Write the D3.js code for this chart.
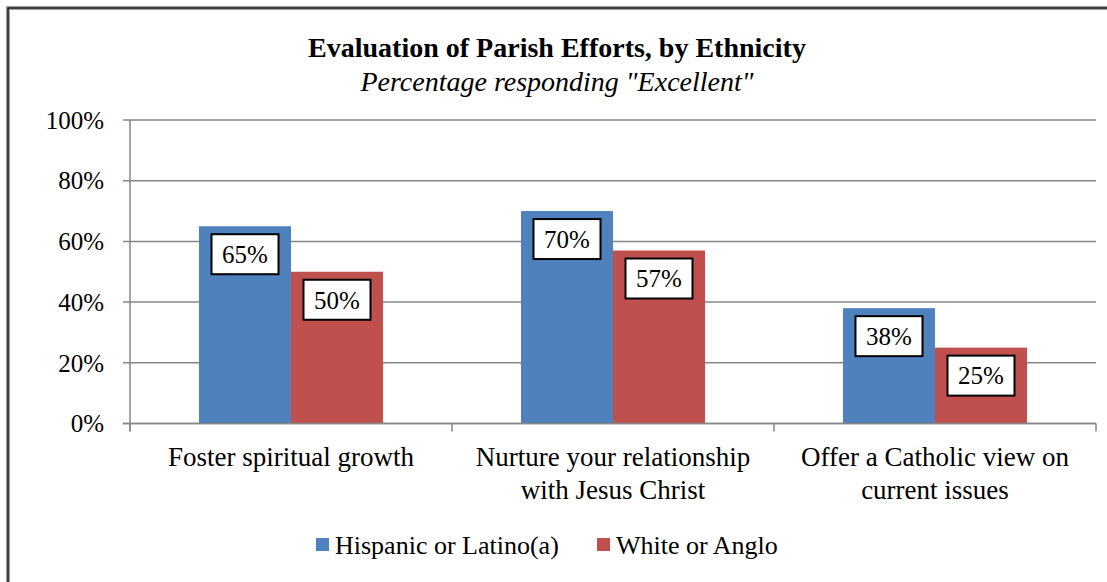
<!DOCTYPE html>
<html>
<head>
<meta charset="utf-8">
<script src="https://cdn.jsdelivr.net/npm/d3@7"></script>
<style>
  html, body { margin: 0; padding: 0; background: #fff; }
</style>
</head>
<body>
<script>
// data
var categories = ["Foster spiritual growth", "Nurture your relationship\nwith Jesus Christ", "Offer a Catholic view on\ncurrent issues"];
var seriesNames = ["Hispanic or Latino(a)", "White or Anglo"];
var hispanic = [0.65, 0.70, 0.38];
var white = [0.50, 0.57, 0.25];
var yTicks = [0, 0.2, 0.4, 0.6, 0.8, 1.0];
var colors = ["#4F81BD", "#C0504D"];

var width = 1107, height = 582;
var fontFam = "'Liberation Serif', 'Times New Roman', Times, 'DejaVu Serif', serif";
var svg = d3.select("body").append("svg")
  .attr("width", width)
  .attr("height", height)
  .attr("font-family", fontFam)
  .style("display", "block");

// double frame
svg.append("rect").attr("x", 6.5).attr("y", 6.5).attr("width", width + 20).attr("height", height + 20)
  .attr("fill", "none").attr("stroke", "#a0a0a0").attr("stroke-width", 1);
svg.append("rect").attr("x", 8).attr("y", 8).attr("width", width + 20).attr("height", height + 20)
  .attr("fill", "none").attr("stroke", "#000").attr("stroke-width", 1.5);
svg.append("rect").attr("x", 9.5).attr("y", 9.5).attr("width", width + 20).attr("height", height + 20)
  .attr("fill", "none").attr("stroke", "#a0a0a0").attr("stroke-width", 1);

// titles
svg.append("text")
  .attr("x", 557).attr("y", 57)
  .attr("text-anchor", "middle")
  .attr("font-weight", "bold")
  .attr("font-size", 28)
  .text("Evaluation of Parish Efforts, by Ethnicity");
svg.append("text")
  .attr("x", 557).attr("y", 91)
  .attr("text-anchor", "middle")
  .attr("font-style", "italic")
  .attr("font-size", 28)
  .text("Percentage responding \"Excellent\"");

var plot = { left: 130, right: 1096, top: 120, bottom: 423.5 };

var x0 = d3.scaleBand().domain(d3.range(categories.length)).range([plot.left, plot.right]).padding(0);
var x1 = d3.scaleBand().domain(d3.range(seriesNames.length)).range([0, x0.bandwidth()])
  .paddingInner(0).paddingOuter(0.75);
var y = d3.scaleLinear().domain([0, 1]).range([plot.bottom, plot.top]);

// gridlines + y ticks
var gridColor = "#868686";
var yAxis = svg.append("g");
yTicks.forEach(function(t) {
  yAxis.append("line")
    .attr("x1", plot.left - 7).attr("x2", plot.right)
    .attr("y1", y(t)).attr("y2", y(t))
    .attr("stroke", gridColor).attr("stroke-width", 1.5);
  yAxis.append("text")
    .attr("x", 104).attr("y", y(t))
    .attr("dy", "0.35em")
    .attr("text-anchor", "end")
    .attr("font-size", 25)
    .text(d3.format(".0%")(t));
});

// bars
var values = [hispanic, white];
var groups = svg.selectAll(".grp")
  .data(categories)
  .enter().append("g")
  .attr("class", "grp")
  .attr("transform", function(d, i) { return "translate(" + x0(i) + ",0)"; });

groups.each(function(d, ci) {
  var g = d3.select(this);
  seriesNames.forEach(function(s, si) {
    var v = values[si][ci];
    g.append("rect")
      .attr("x", x1(si))
      .attr("y", y(v))
      .attr("width", x1.bandwidth())
      .attr("height", y(0) - y(v))
      .attr("fill", colors[si]);
  });
});

// axes lines
svg.append("line")
  .attr("x1", plot.left).attr("x2", plot.left)
  .attr("y1", plot.top).attr("y2", plot.bottom + 8)
  .attr("stroke", gridColor).attr("stroke-width", 1.5);
svg.append("line")
  .attr("x1", plot.left - 7).attr("x2", plot.right)
  .attr("y1", plot.bottom).attr("y2", plot.bottom)
  .attr("stroke", gridColor).attr("stroke-width", 1.5);
d3.range(categories.length + 1).forEach(function(i) {
  var xx = i < categories.length ? x0(i) : plot.right;
  svg.append("line")
    .attr("x1", xx).attr("x2", xx)
    .attr("y1", plot.bottom).attr("y2", plot.bottom + 8)
    .attr("stroke", gridColor).attr("stroke-width", 1.5);
});

// data labels
groups.each(function(d, ci) {
  var g = d3.select(this);
  seriesNames.forEach(function(s, si) {
    var v = values[si][ci];
    var cx = x1(si) + x1.bandwidth() / 2;
    var top = y(v) + 8;
    g.append("rect")
      .attr("x", cx - 33.5).attr("y", top)
      .attr("width", 67).attr("height", 40)
      .attr("fill", "#fff")
      .attr("stroke", "#000").attr("stroke-width", 2);
    g.append("text")
      .attr("x", cx).attr("y", top + 20)
      .attr("dy", "0.35em")
      .attr("text-anchor", "middle")
      .attr("font-size", 25)
      .text(d3.format(".0%")(v));
  });
});

// category labels
groups.each(function(d) {
  var t = d3.select(this).append("text")
    .attr("text-anchor", "middle")
    .attr("font-size", 27);
  d.split("\n").forEach(function(line, li) {
    t.append("tspan")
      .attr("x", x0.bandwidth() / 2)
      .attr("y", 466 + li * 33)
      .text(line);
  });
});

// legend
var legendX = [316, 597];
seriesNames.forEach(function(s, si) {
  svg.append("rect")
    .attr("x", legendX[si]).attr("y", 538)
    .attr("width", 13).attr("height", 13)
    .attr("fill", colors[si]);
  svg.append("text")
    .attr("x", legendX[si] + 19).attr("y", 554)
    .attr("font-size", 26)
    .text(s);
});
</script>
</body>
</html>
